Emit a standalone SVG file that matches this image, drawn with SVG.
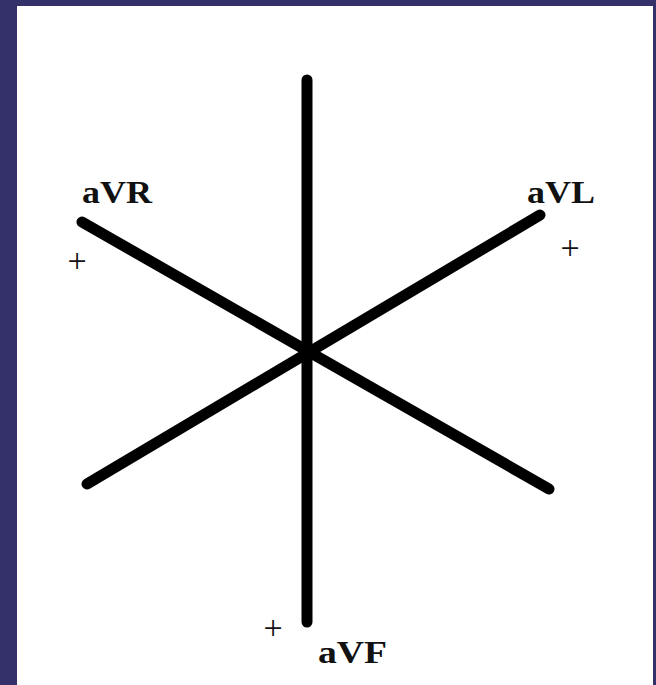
<svg xmlns="http://www.w3.org/2000/svg" width="656" height="685" viewBox="0 0 656 685">
<style>
.ax{stroke:#000;stroke-width:11;stroke-linecap:round;fill:none}
.lbl{font-family:"Liberation Serif","Times New Roman",serif;font-weight:bold;font-size:31px;fill:#111}
.pl{font-family:"Liberation Serif","Times New Roman",serif;font-size:34px;fill:#111;text-anchor:middle}
</style>
<rect x="0" y="0" width="656" height="685" fill="#33306a"/>
<rect x="17" y="6" width="636" height="679" fill="#fff"/>
<g id="connectors">
<line class="ax" x1="307" y1="80" x2="307" y2="622"/>
<line class="ax" x1="82" y1="222" x2="549" y2="489"/>
<line class="ax" x1="540" y1="215" x2="87" y2="484"/>
</g>
<g id="aVR">
<text class="lbl" x="82" y="203" textLength="70" lengthAdjust="spacingAndGlyphs">aVR</text>
<text class="pl" x="77" y="272">+</text>
</g>
<g id="aVL">
<text class="lbl" x="527" y="203" textLength="68" lengthAdjust="spacingAndGlyphs">aVL</text>
<text class="pl" x="570" y="259">+</text>
</g>
<g id="aVF">
<text class="lbl" x="318" y="663" textLength="69" lengthAdjust="spacingAndGlyphs">aVF</text>
<text class="pl" x="273" y="639">+</text>
</g>
</svg>
